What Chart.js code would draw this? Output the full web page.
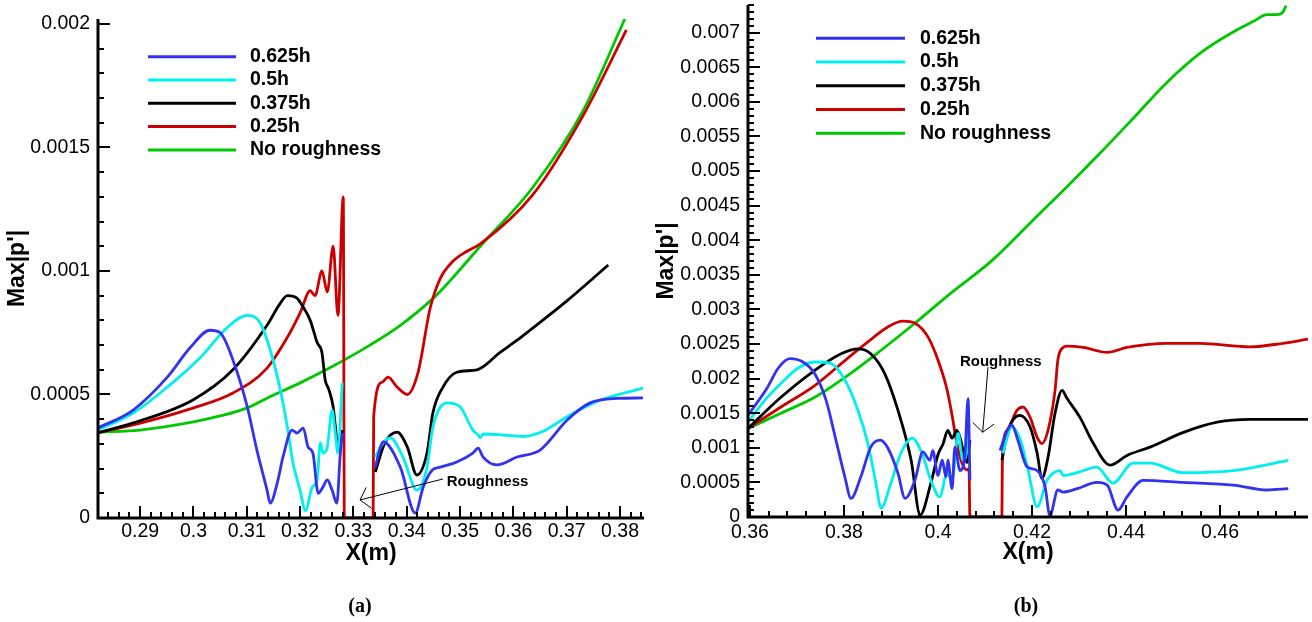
<!DOCTYPE html>
<html>
<head>
<meta charset="utf-8">
<script src="https://cdn.jsdelivr.net/npm/chart.js@4.4.1/dist/chart.umd.min.js"></script>
<style>
  html, body { margin: 0; padding: 0; background: #fff; }
  #wrap { position: relative; width: 1312px; height: 622px; overflow: hidden; }
  #chartA { position: absolute; left: 0; top: 0; width: 656px; height: 622px; }
  #chartB { position: absolute; left: 640px; top: 0; width: 672px; height: 622px; }
</style>
</head>
<body>
<div id="wrap">
  <canvas id="chartA" width="656" height="622"></canvas>
  <canvas id="chartB" width="672" height="622"></canvas>
</div>
<script>
// series names and colours (same for both panels)
const seriesLabels = ["0.625h", "0.5h", "0.375h", "0.25h", "No roughness"];
const seriesColors = ["#3232f0", "#00f0f0", "#000000", "#cc0000", "#00c800"];

// panel (a): [X(m), Max|p'|], null = gap at the roughness element
const a625 = [[0.2821, 0.000364], [0.2887, 0.000437], [0.2951, 0.00057], [0.2994, 0.00069], [0.3031, 0.00076], [0.305, 0.00075], [0.3074, 0.00064], [0.3101, 0.00045], [0.3119, 0.000275], [0.3138, 0.000113], [0.3144, 0.00006], [0.3157, 0.00014], [0.3168, 0.000247], [0.3185, 0.000356], [0.3194, 0.000344], [0.3206, 0.000364], [0.3215, 0.000287], [0.3224, 0.000263], [0.3234, 0.0001], [0.3243, 0.000126], [0.3251, 0.000154], [0.326, 0.000113], [0.3269, 0.00006], [0.3275, 0.000247], [0.3279, 0.000344], [0.3305, null], [0.3341, 0.000206], [0.3356, 0.000308], [0.3388, 0.000206], [0.3416, 0.00002], [0.3431, 0.000126], [0.3448, 0.000194], [0.3463, 0.000206], [0.3494, 0.000227], [0.3524, 0.000263], [0.3534, 0.000283], [0.3543, 0.000247], [0.3569, 0.000215], [0.3607, 0.000247], [0.365, 0.000275], [0.3701, 0.000397], [0.3744, 0.000466], [0.3795, 0.000484], [0.3843, 0.000486]];
const a500 = [[0.2821, 0.000356], [0.2887, 0.000425], [0.2951, 0.00053], [0.3013, 0.00065], [0.3063, 0.00077], [0.3101, 0.00082], [0.3125, 0.00079], [0.3144, 0.00068], [0.3163, 0.000518], [0.3176, 0.00037], [0.3187, 0.00022], [0.32, 0.000113], [0.321, 0.00003], [0.3223, 0.000126], [0.3232, 0.000154], [0.3238, 0.000304], [0.3243, 0.000263], [0.3251, 0.000287], [0.326, 0.000437], [0.3266, 0.000344], [0.3271, 0.000263], [0.3279, 0.000547], [0.3305, null], [0.3341, 0.000247], [0.3356, 0.000304], [0.3369, 0.000324], [0.3393, 0.000247], [0.3419, 0.000113], [0.3438, 0.000206], [0.3449, 0.000368], [0.3476, 0.000466], [0.35, 0.00045], [0.3524, 0.000356], [0.3534, 0.000336], [0.3538, 0.000325], [0.3543, 0.00034], [0.3581, 0.000336], [0.3618, 0.00033], [0.3655, 0.00035], [0.3701, 0.00041], [0.3757, 0.000472], [0.3843, 0.000526]];
const a375 = [[0.2821, 0.000345], [0.2887, 0.000385], [0.2999, 0.000478], [0.3074, 0.0006], [0.3138, 0.00078], [0.3163, 0.00087], [0.3176, 0.0009], [0.3194, 0.00089], [0.3204, 0.00086], [0.3219, 0.0008], [0.3232, 0.00071], [0.3241, 0.00067], [0.3247, 0.00056], [0.3254, 0.00052], [0.3262, 0.00045], [0.3269, 0.000316], [0.3273, 0.000275], [0.3279, 0.000356], [0.3305, null], [0.3341, 0.000186], [0.3359, 0.000304], [0.3382, 0.000348], [0.3401, 0.000288], [0.3419, 0.000174], [0.3438, 0.000263], [0.3449, 0.000425], [0.3468, 0.00053], [0.3494, 0.00059], [0.3532, 0.0006], [0.3575, 0.00067], [0.3607, 0.00072], [0.3631, 0.00076], [0.3701, 0.00088], [0.3778, 0.001024]];
const a250 = [[0.2821, 0.000345], [0.2887, 0.000377], [0.2999, 0.000445], [0.3074, 0.000506], [0.3138, 0.000607], [0.3181, 0.00075], [0.32, 0.00083], [0.3219, 0.00092], [0.3228, 0.0009], [0.3241, 0.001], [0.3251, 0.000915], [0.3262, 0.0011], [0.3271, 0.00082], [0.3281, 0.0013], [0.3283, 0], [0.3337, 0], [0.3338, 0.00041], [0.3354, 0.00055], [0.3365, 0.00057], [0.3382, 0.00053], [0.3401, 0.0005], [0.3421, 0.000587], [0.3444, 0.00085], [0.3463, 0.00097], [0.3487, 0.00104], [0.3513, 0.00108], [0.3538, 0.00111], [0.3637, 0.00131], [0.3731, 0.00163], [0.3812, 0.001976]];
const aSmooth = [[0.2821, 0.000348], [0.29, 0.000356], [0.3, 0.000389], [0.305, 0.000413], [0.31, 0.000445], [0.3138, 0.000485], [0.32, 0.000547], [0.3262, 0.000615], [0.3331, 0.0007], [0.3388, 0.00078], [0.345, 0.00089], [0.3481, 0.00096], [0.3538, 0.0011], [0.3637, 0.00134], [0.3731, 0.00165], [0.3809, 0.00202]];

// panel (b)
const b625 = [[0.3596, 0.00147], [0.3638, 0.00188], [0.366, 0.00215], [0.3685, 0.00229], [0.3713, 0.00224], [0.3738, 0.00207], [0.3762, 0.00169], [0.3783, 0.00111], [0.3802, 0.00058], [0.3815, 0.00027], [0.3836, 0.00058], [0.3857, 0.00101], [0.3877, 0.00111], [0.3894, 0.00099], [0.3915, 0.00063], [0.393, 0.00027], [0.3951, 0.00053], [0.3968, 0.00094], [0.3983, 0.00082], [0.3989, 0.00096], [0.4, 0.0006], [0.4009, 0.00082], [0.4017, 0.00058], [0.4021, 0.00082], [0.403, 0.00041], [0.4036, 0.00101], [0.4047, 0.00067], [0.4057, 0.00086], [0.4064, 0.00171], [0.4068, 0.00053], [0.41, null], [0.4132, 0.00096], [0.4147, 0.00125], [0.4157, 0.00133], [0.417, 0.00111], [0.4189, 0.00073], [0.4211, 0.00067], [0.4228, 0.00043], [0.4238, 0.00002], [0.4255, 0.00039], [0.4266, 0.00036], [0.4296, 0.00041], [0.4338, 0.0005], [0.436, 0.00046], [0.4383, 0.0001], [0.4402, 0.00029], [0.4436, 0.00053], [0.4521, 0.0005], [0.4628, 0.00046], [0.47, 0.00039], [0.4745, 0.00041]];
const b500 = [[0.3596, 0.00137], [0.3632, 0.00169], [0.3666, 0.00193], [0.3702, 0.00215], [0.3738, 0.00224], [0.3772, 0.00222], [0.3802, 0.00198], [0.383, 0.00154], [0.3851, 0.00106], [0.3868, 0.00049], [0.3879, 0.00013], [0.39, 0.00049], [0.3921, 0.00092], [0.3945, 0.00114], [0.3966, 0.00092], [0.3985, 0.00053], [0.4004, 0.00029], [0.4019, 0.00063], [0.403, 0.00053], [0.4043, 0.00121], [0.4053, 0.00082], [0.4062, 0.00099], [0.4066, 0.00135], [0.41, null], [0.4138, 0.00092], [0.4157, 0.0013], [0.4174, 0.00114], [0.4191, 0.0007], [0.4211, 0.00015], [0.4232, 0.00053], [0.426, 0.00067], [0.4266, 0.0006], [0.4296, 0.00064], [0.4338, 0.00072], [0.4372, 0.00049], [0.4415, 0.00078], [0.4451, 0.00078], [0.4521, 0.00064], [0.4628, 0.00067], [0.4745, 0.00082]];
const b375 = [[0.3596, 0.00128], [0.3666, 0.00173], [0.3738, 0.00212], [0.3794, 0.00236], [0.383, 0.00243], [0.3857, 0.00236], [0.3887, 0.00207], [0.3915, 0.00154], [0.3943, 0.00082], [0.3962, 0.00003], [0.3985, 0.00049], [0.4, 0.0009], [0.4011, 0.00106], [0.4021, 0.00125], [0.403, 0.00114], [0.404, 0.00125], [0.4047, 0.00115], [0.4057, 0.00086], [0.4062, 0.00079], [0.4068, 0.00111], [0.41, null], [0.4136, 0.00082], [0.4149, 0.00125], [0.4174, 0.00147], [0.4196, 0.0013], [0.4211, 0.00092], [0.4221, 0.00056], [0.4234, 0.00086], [0.4249, 0.0015], [0.4264, 0.00183], [0.4274, 0.00172], [0.4302, 0.00144], [0.433, 0.00107], [0.4366, 0.00075], [0.4402, 0.00089], [0.4451, 0.00101], [0.4521, 0.00122], [0.4594, 0.00137], [0.4664, 0.00141], [0.4787, 0.00141]];
const b250 = [[0.3596, 0.00128], [0.3666, 0.00159], [0.3738, 0.0019], [0.3809, 0.0023], [0.3851, 0.00253], [0.3894, 0.00275], [0.3926, 0.00283], [0.3951, 0.0028], [0.3979, 0.0026], [0.4, 0.00227], [0.4019, 0.00185], [0.403, 0.00147], [0.404, 0.00107], [0.4051, 0.00078], [0.4062, 0.00068], [0.4066, 0.0007], [0.4068, 0], [0.4136, 0], [0.4137, 0.00086], [0.4147, 0.00125], [0.4168, 0.00154], [0.4181, 0.00159], [0.4196, 0.00144], [0.4211, 0.00115], [0.4221, 0.00106], [0.4234, 0.00125], [0.4249, 0.00183], [0.4255, 0.00227], [0.4266, 0.00245], [0.4274, 0.00247], [0.4309, 0.00245], [0.436, 0.00238], [0.4402, 0.00245], [0.4487, 0.00251], [0.4557, 0.00251], [0.4664, 0.00246], [0.4734, 0.00251], [0.4787, 0.00257]];
const bSmooth = [[0.3596, 0.00128], [0.3666, 0.0015], [0.3738, 0.00173], [0.3809, 0.00205], [0.3879, 0.00241], [0.3951, 0.0028], [0.4021, 0.0032], [0.4117, 0.00372], [0.4202, 0.00429], [0.4274, 0.00477], [0.4345, 0.00526], [0.4415, 0.00576], [0.4487, 0.00628], [0.4557, 0.0067], [0.4628, 0.00701], [0.467, 0.00716], [0.47, 0.00726], [0.4721, 0.00726], [0.4734, 0.0073], [0.474, 0.00739]];

// tick labels
const aXTicks = [0.29, 0.3, 0.31, 0.32, 0.33, 0.34, 0.35, 0.36, 0.37, 0.38];
const aYTicks = [0, 0.0005, 0.001, 0.0015, 0.002];
const bXTicks = [0.36, 0.38, 0.4, 0.42, 0.44, 0.46];
const bYTicks = [0, 0.0005, 0.001, 0.0015, 0.002, 0.0025, 0.003, 0.0035, 0.004, 0.0045, 0.005, 0.0055, 0.006, 0.0065, 0.007];

const sans = "'Liberation Sans', Arial, Helvetica, sans-serif";

// axes with inward ticks, legend, roughness note and caption
const framePlugin = {
  id: "frame",
  afterDatasetsDraw(chart, args, opts) {
    const ctx = chart.ctx;
    const area = chart.chartArea;
    const xs = chart.scales.x;
    const ys = chart.scales.y;
    ctx.save();
    ctx.strokeStyle = "#000";
    ctx.fillStyle = "#000";

    // ticks
    ctx.lineWidth = 2;
    ctx.beginPath();
    for (let k = Math.ceil(xs.min / opts.minorX - 1e-6); k * opts.minorX <= xs.max + 1e-9; k++) {
      const v = k * opts.minorX;
      const major = opts.xTicks.some(t => Math.abs(t - v) < opts.minorX / 10);
      const px = Math.round(xs.getPixelForValue(v));
      ctx.moveTo(px, area.bottom);
      ctx.lineTo(px, area.bottom - (major ? 12 : 6));
    }
    for (let k = 0; k * opts.minorY <= ys.max + 1e-9; k++) {
      const v = k * opts.minorY;
      const major = opts.yTicks.some(t => Math.abs(t - v) < opts.minorY / 10);
      const py = Math.round(ys.getPixelForValue(v));
      ctx.moveTo(area.left, py);
      ctx.lineTo(area.left + (major ? 12 : 6), py);
    }
    ctx.stroke();

    // axis lines
    ctx.lineWidth = 3;
    ctx.beginPath();
    ctx.moveTo(area.left, area.top);
    ctx.lineTo(area.left, area.bottom);
    ctx.lineTo(area.right, area.bottom);
    ctx.stroke();

    // legend
    ctx.font = "bold 19.5px " + sans;
    ctx.textBaseline = "middle";
    ctx.textAlign = "left";
    chart.data.datasets.forEach((ds, i) => {
      const y = opts.legend.y0 + i * opts.legend.dy;
      ctx.strokeStyle = ds.borderColor;
      ctx.lineWidth = 3;
      ctx.beginPath();
      ctx.moveTo(opts.legend.x0, y);
      ctx.lineTo(opts.legend.x1, y);
      ctx.stroke();
      ctx.fillText(ds.label, opts.legend.tx, y);
    });

    // roughness note with arrow
    const n = opts.note;
    const tx = xs.getPixelForValue(n.tip[0]), ty = ys.getPixelForValue(n.tip[1]);
    const fx = xs.getPixelForValue(n.from[0]), fy = ys.getPixelForValue(n.from[1]);
    ctx.strokeStyle = "#000";
    ctx.lineWidth = 1;
    ctx.beginPath();
    ctx.moveTo(fx, fy);
    ctx.lineTo(tx, ty);
    const ang = Math.atan2(fy - ty, fx - tx);
    [-1, 1].forEach(s => {
      const a = ang + s * 50 * Math.PI / 180;
      ctx.moveTo(tx, ty);
      ctx.lineTo(tx + 14 * Math.cos(a), ty + 14 * Math.sin(a));
    });
    ctx.stroke();
    ctx.font = "bold 15px " + sans;
    ctx.fillText("Roughness", xs.getPixelForValue(n.text[0]), ys.getPixelForValue(n.text[1]));

    // caption
    ctx.font = "bold 20px 'Liberation Serif', 'Times New Roman', serif";
    ctx.textAlign = "center";
    ctx.fillText(opts.caption, opts.captionX, 607);
    ctx.restore();
  }
};

function toPoints(pairs) {
  return pairs.map(p => ({ x: p[0], y: p[1] }));
}

function makeChart(canvasId, cfg) {
  const datasets = cfg.series.map((s, i) => ({
    label: seriesLabels[i],
    data: toPoints(s),
    borderColor: seriesColors[i],
    backgroundColor: seriesColors[i],
    borderWidth: 2.8,
    pointRadius: 0,
    cubicInterpolationMode: "monotone",
    fill: false
  }));

  return new Chart(document.getElementById(canvasId), {
    type: "line",
    data: { datasets: datasets },
    plugins: [framePlugin],
    options: {
      responsive: false,
      animation: false,
      layout: { padding: cfg.padding },
      plugins: {
        legend: { display: false },
        tooltip: { enabled: false },
        frame: cfg.frame
      },
      scales: {
        x: {
          type: "linear",
          min: cfg.xMin,
          max: cfg.xMax,
          grid: { display: false, drawTicks: false },
          border: { display: false },
          afterBuildTicks: s => { s.ticks = cfg.xTicks.map(v => ({ value: v })); },
          afterFit: s => { s.height = cfg.xHeight; s.paddingLeft = 0; s.paddingRight = 0; },
          ticks: {
            color: "#000",
            font: { family: sans, size: 19.5 },
            padding: cfg.xPad,
            maxRotation: 0,
            autoSkip: false,
            callback: v => String(v)
          },
          title: {
            display: true,
            text: "X(m)",
            color: "#000",
            font: { family: sans, size: 23, weight: "bold" },
            padding: { top: 0, bottom: cfg.xTitlePad }
          }
        },
        y: {
          type: "linear",
          min: 0,
          max: cfg.yMax,
          grid: { display: false, drawTicks: false },
          border: { display: false },
          afterBuildTicks: s => { s.ticks = cfg.yTicks.map(v => ({ value: v })); },
          afterFit: s => { s.width = cfg.yWidth; s.paddingTop = 0; s.paddingBottom = 0; },
          ticks: {
            color: "#000",
            font: { family: sans, size: 19.5 },
            padding: 8,
            autoSkip: false,
            callback: v => String(v)
          },
          title: {
            display: true,
            text: "Max|p'|",
            color: "#000",
            font: { family: sans, size: 23, weight: "bold" },
            padding: { top: cfg.yTitlePad, bottom: 0 }
          }
        }
      }
    }
  });
}

makeChart("chartA", {
  series: [a625, a500, a375, a250, aSmooth],
  xMin: 0.2821, xMax: 0.3845, yMax: 0.00202,
  xTicks: aXTicks, yTicks: aYTicks,
  padding: { top: 19, right: 12, left: 0, bottom: 0 },
  xHeight: 104, yWidth: 98, xPad: 2, xTitlePad: 55, yTitlePad: 3.7,
  frame: {
    minorX: 0.002, minorY: 0.0001, xTicks: aXTicks, yTicks: aYTicks,
    legend: { x0: 148, x1: 236, tx: 250, y0: 56.7, dy: 23.3 },
    note: { text: [0.3475, 0.000146], from: [0.3468, 0.000158], tip: [0.33125, 0.000073] },
    caption: "(a)", captionX: 360
  }
});

makeChart("chartB", {
  series: [b625, b500, b375, b250, bSmooth],
  xMin: 0.3596, xMax: 0.4787, yMax: 0.0074,
  xTicks: bXTicks, yTicks: bYTicks,
  padding: { top: 5, right: 4, left: 0, bottom: 0 },
  xHeight: 105, yWidth: 108, xPad: 4, xTitlePad: 56, yTitlePad: 13.2,
  frame: {
    minorX: 0.004, minorY: 0.0001, xTicks: bXTicks, yTicks: bYTicks,
    legend: { x0: 176, x1: 265, tx: 280, y0: 38.3, dy: 23.75 },
    note: { text: [0.40468, 0.002237], from: [0.41064, 0.002164], tip: [0.40951, 0.001225] },
    caption: "(b)", captionX: 386
  }
});
</script>
</body>
</html>
